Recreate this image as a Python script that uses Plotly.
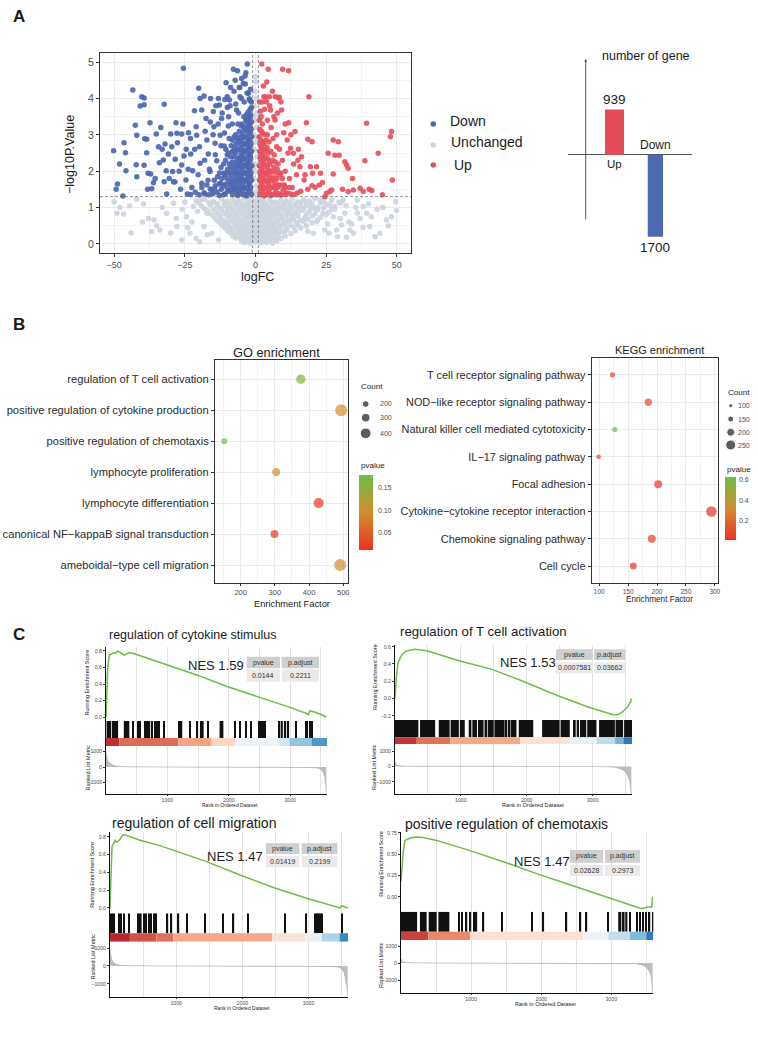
import plotly.graph_objects as go

W, H = 758, 1048
FONT = "Liberation Sans, Arial, Helvetica, sans-serif"

# ======================= DATA =======================
# ---- Panel A: volcano (logFC, -log10 P) ----
down_pts = [
    (-50.2, 2.56), (-48.8, 1.65), (-49.3, 1.5), (-48.1, 2.2), (-46.5, 2.78), (-46.0, 2.51), (-45.8, 2.01), (-46.9, 1.32),
    (-43.4, 4.23), (-40.2, 4.05), (-39.4, 4.01), (-40.8, 3.79), (-39.4, 3.83), (-42.5, 3.26), (-42.0, 2.99), (-42.2, 2.18),
    (-42.0, 1.85), (-39.4, 2.16), (-39.2, 2.89), (-38.5, 2.88), (-38.5, 2.51), (-37.3, 3.33), (-38.0, 1.94), (-37.1, 1.92),
    (-36.7, 1.52), (-38.2, 1.5), (-36.1, 1.68), (-35.1, 3.02), (-34.3, 2.67), (-34.0, 2.23), (-33.5, 3.2), (-32.3, 3.84),
    (-32.0, 2.75), (-32.6, 2.31), (-31.6, 2.01), (-32.3, 1.71), (-30.8, 2.47), (-31.4, 1.37), (-30.0, 3.02), (-29.6, 2.67),
    (-29.3, 1.99), (-29.0, 1.71), (-28.4, 2.33), (-28.1, 3.33), (-27.8, 3.04), (-27.6, 2.78), (-26.1, 3.02), (-25.7, 3.3),
    (-25.5, 4.83), (-25.3, 2.42), (-26.1, 2.17), (-24.6, 1.76), (-23.7, 3.06), (-24.1, 1.37), (-22.9, 2.47), (-22.2, 2.01),
    (-21.6, 3.66), (-21.0, 3.22), (-20.8, 2.99), (-20.1, 4.28), (-19.6, 4.0), (-18.2, 4.07), (-19.0, 3.68), (-19.8, 2.67),
    (-19.6, 2.22), (-19.0, 1.67), (-18.2, 1.41), (-17.5, 3.45), (-17.2, 2.86), (-16.7, 2.47), (-15.9, 4.0), (-16.1, 1.99),
    (-15.5, 1.5), (-14.9, 3.64), (-14.7, 3.22), (-14.3, 2.77), (-13.7, 2.29), (-13.1, 4.0), (-12.8, 3.82), (-12.5, 2.99),
    (-12.3, 1.67), (-12.0, 3.45), (-11.1, 2.69), (-10.8, 3.97), (-10.4, 4.43), (-9.96, 3.75), (-9.6, 3.24), (-9.2, 3.96),
    (-8.8, 4.3), (-7.8, 4.8), (-6.4, 4.76), (-7.2, 4.5), (-5.7, 4.3), (-4.9, 4.55), (-3.7, 4.62), (-2.9, 4.95),
    (-3.4, 4.71), (-4.3, 4.41), (-2.5, 4.14), (-2.2, 3.99), (-5.5, 4.05), (-6.7, 3.68),
    (-15.0, 3.0), (-13.2, 3.3), (-11.0, 3.05), (-9.5, 3.5), (-8.2, 3.3), (-7.0, 3.85), (-6.0, 3.6), (-5.0, 4.0),
    (-4.0, 3.9), (-3.0, 4.15), (-1.8, 4.25), (-1.5, 3.9), (-18.0, 2.3), (-16.3, 2.05), (-14.2, 2.45), (-12.2, 2.7),
    (-20.3, 1.9), (-22.5, 1.55), (-17.2, 1.62), (-23.8, 2.05), (-26.5, 1.5), (-10.0, 4.05), (-9.0, 3.8), (-7.6, 4.2),
    (-5.6, 4.3), (-3.6, 4.4), (-21.5, 2.6), (-23.0, 2.9), (-17.8, 3.1), (-16.0, 3.35), (-14.0, 3.8), (-11.8, 3.6),
    (-10.5, 2.6), (-9.3, 2.9), (-8.0, 2.55), (-27.0, 2.0), (-28.5, 1.7), (-30.5, 1.8), (-33.0, 2.6), (-35.5, 1.8), (-24.5, 2.6),
    (-1.4, 1.36), (-1.7, 1.55), (-1.4, 1.75), (-1.6, 1.95), (-1.3, 2.15), (-1.7, 2.35), (-1.4, 2.55), (-1.6, 2.75),
    (-1.3, 2.95), (-1.5, 3.15), (-1.4, 3.35), (-1.7, 3.55), (-1.4, 3.75),
    (-2.6, 1.42), (-2.4, 1.62), (-2.7, 1.82), (-2.5, 2.02), (-2.8, 2.22), (-2.4, 2.42), (-2.6, 2.62), (-2.7, 2.82),
    (-2.5, 3.02), (-2.4, 3.22), (-2.8, 3.42), (-2.6, 3.62),
    (-3.6, 1.36), (-3.8, 1.56), (-3.5, 1.76), (-3.7, 1.96), (-3.4, 2.16), (-3.9, 2.36), (-3.6, 2.56), (-3.5, 2.76),
    (-3.8, 2.96), (-3.6, 3.16), (-3.4, 3.4),
    (-4.7, 1.45), (-4.5, 1.65), (-4.9, 1.85), (-4.6, 2.05), (-4.8, 2.25), (-4.5, 2.45), (-4.7, 2.65), (-4.9, 2.85),
    (-4.6, 3.05), (-4.8, 3.3),
    (-5.8, 1.38), (-5.6, 1.58), (-6.0, 1.78), (-5.7, 1.98), (-5.9, 2.18), (-5.6, 2.38), (-5.8, 2.6), (-6.0, 2.82), (-5.7, 3.1),
    (-6.9, 1.44), (-7.1, 1.64), (-6.8, 1.84), (-7.0, 2.04), (-6.7, 2.26), (-7.1, 2.5), (-6.9, 2.75), (-7.0, 3.0),
    (-8.1, 1.36), (-7.9, 1.56), (-8.3, 1.78), (-8.0, 2.0), (-8.2, 2.25), (-7.9, 2.55), (-8.1, 2.85),
    (-9.4, 1.45), (-9.2, 1.7), (-9.6, 1.95), (-9.3, 2.2), (-9.5, 2.5),
    (-10.7, 1.38), (-10.5, 1.65), (-10.9, 1.9), (-10.6, 2.3),
    (-12.1, 1.5), (-11.9, 1.8), (-12.2, 2.1), (-13.6, 1.42), (-13.4, 1.85), (-15.1, 1.38),
    (-16.5, 1.35), (-18.0, 1.38), (-20.0, 1.35), (-21.3, 1.42), (-23.0, 1.36), (-14.2, 1.6), (-16.8, 1.75),
    (-2.0, 1.46), (-2.1, 1.66), (-1.9, 1.86), (-2.0, 2.06), (-2.2, 2.26), (-1.9, 2.46), (-2.1, 2.66), (-2.0, 2.86),
    (-1.9, 3.06), (-2.1, 3.26), (-2.0, 3.46), (-1.9, 3.7), (-2.0, 3.95),
    (-3.1, 1.32), (-3.0, 1.52), (-3.2, 1.72), (-3.1, 1.92), (-3.0, 2.12), (-3.2, 2.32), (-3.1, 2.52), (-3.0, 2.72),
    (-3.2, 2.92), (-3.1, 3.12), (-3.0, 3.32), (-3.2, 3.55),
    (-4.2, 1.35), (-4.1, 1.55), (-4.3, 1.75), (-4.2, 1.95), (-4.1, 2.15), (-4.3, 2.35), (-4.2, 2.55), (-4.1, 2.75),
    (-4.3, 2.95), (-4.2, 3.2), (-4.1, 3.5),
    (-5.2, 1.5), (-5.3, 1.7), (-5.1, 1.9), (-5.2, 2.1), (-5.3, 2.3), (-5.1, 2.5), (-5.2, 2.72), (-5.3, 2.95), (-5.1, 3.25),
    (-6.3, 1.33), (-6.4, 1.53), (-6.2, 1.73), (-6.3, 1.93), (-6.4, 2.13), (-6.2, 2.35), (-6.3, 2.6), (-6.4, 2.9), (-6.2, 3.3),
    (-7.5, 1.5), (-7.6, 1.72), (-7.4, 1.95), (-7.5, 2.15), (-7.6, 2.4), (-7.4, 2.65), (-7.5, 2.95),
    (-8.7, 1.48), (-8.8, 1.62), (-8.6, 1.88), (-8.7, 2.1), (-8.8, 2.4), (-8.6, 2.7),
    (-10.0, 1.52), (-10.1, 1.8), (-9.9, 2.05), (-10.0, 2.45),
    (-11.3, 1.35), (-11.4, 1.6), (-11.2, 1.95), (-11.3, 2.2),
    (-12.8, 1.33), (-12.9, 1.65), (-12.7, 1.95), (-14.5, 1.5), (-14.6, 1.75), (-16.0, 1.5), (-19.0, 1.55),
]

up_pts = [
    (2.2, 4.95), (2.8, 4.34), (3.0, 4.05), (3.9, 3.91), (4.9, 4.05), (8.1, 4.01), (8.4, 4.03), (9.6, 4.8), (11.7, 4.76),
    (4.5, 4.8), (5.3, 3.68), (6.9, 3.41), (7.5, 2.67), (9.2, 3.68), (10.0, 3.06), (11.2, 2.86), (11.7, 3.33), (12.4, 2.63),
    (13.4, 2.49), (14.0, 3.09), (15.2, 2.6), (15.7, 2.12), (16.3, 2.4), (17.2, 1.76), (18.0, 3.33), (18.9, 4.05),
    (18.5, 2.88), (19.4, 2.12), (20.0, 2.81), (20.2, 1.94), (21.1, 1.56), (21.6, 2.12), (22.6, 1.62), (23.0, 1.94),
    (23.7, 1.69), (24.5, 1.3), (25.1, 1.39), (25.7, 2.49), (26.3, 1.44), (26.9, 1.48), (27.5, 1.92), (28.1, 2.44),
    (29.3, 2.81), (29.6, 2.44), (30.8, 1.5), (31.6, 2.26), (32.2, 2.17), (32.8, 2.08), (32.8, 1.44), (34.3, 1.8),
    (34.6, 1.48), (37.0, 1.53), (38.1, 1.44), (38.7, 2.29), (39.3, 3.32), (40.2, 1.5), (41.1, 1.47), (43.4, 2.49),
    (44.9, 1.35), (47.7, 2.95), (48.1, 3.09), (48.4, 1.76), (27.5, 2.86),
    (5.5, 3.2), (6.2, 2.9), (7.5, 3.0), (8.5, 2.6), (6.5, 3.5), (4.2, 3.4), (9.5, 2.3), (10.5, 2.0), (12.0, 1.8),
    (13.0, 1.55), (14.5, 1.9), (16.0, 1.45), (11.5, 2.5), (3.2, 3.7), (5.0, 3.8), (2.4, 3.9), (7.8, 3.6), (9.0, 3.9),
    (3.5, 4.05), (6.0, 4.2), (4.0, 4.45), (13.5, 2.2), (15.0, 2.3), (17.5, 1.9), (18.5, 1.5), (20.0, 1.6), (10.5, 3.3),
    (8.0, 2.2), (12.5, 3.0), (7.0, 4.05),
    (1.5, 1.36), (1.7, 1.55), (1.4, 1.75), (1.6, 1.95), (1.3, 2.15), (1.7, 2.35), (1.4, 2.55), (1.6, 2.75), (1.3, 2.95),
    (1.5, 3.15), (1.4, 3.4), (1.7, 3.65), (1.4, 3.9),
    (2.6, 1.4), (2.4, 1.6), (2.7, 1.8), (2.5, 2.0), (2.8, 2.2), (2.4, 2.4), (2.6, 2.6), (2.7, 2.8), (2.5, 3.05), (2.4, 3.3),
    (3.7, 1.36), (3.5, 1.56), (3.8, 1.76), (3.6, 1.96), (3.9, 2.16), (3.5, 2.38), (3.7, 2.6), (3.8, 2.85),
    (4.8, 1.42), (4.6, 1.62), (5.0, 1.82), (4.7, 2.02), (4.9, 2.25), (4.6, 2.5), (4.8, 2.8),
    (5.9, 1.36), (5.7, 1.56), (6.1, 1.78), (5.8, 2.0), (6.0, 2.3),
    (7.1, 1.45), (6.9, 1.68), (7.3, 1.95), (7.0, 2.25),
    (8.4, 1.38), (8.2, 1.62), (8.6, 1.9), (9.7, 1.48), (9.5, 1.8), (11.0, 1.4), (12.3, 1.38), (10.2, 1.62), (13.5, 1.36),
    (2.0, 1.46), (2.1, 1.66), (1.9, 1.86), (2.0, 2.06), (2.2, 2.26), (1.9, 2.46), (2.1, 2.66), (2.0, 2.86), (2.1, 3.1), (2.0, 3.5),
    (3.1, 1.32), (3.0, 1.52), (3.2, 1.72), (3.1, 1.92), (3.0, 2.12), (3.2, 2.32), (3.1, 2.52), (3.0, 2.75), (3.2, 3.0),
    (4.2, 1.5), (4.3, 1.7), (4.1, 1.9), (4.2, 2.1), (4.3, 2.35), (4.1, 2.65), (4.2, 3.0),
    (5.3, 1.33), (5.2, 1.53), (5.4, 1.73), (5.3, 1.95), (5.2, 2.2), (5.4, 2.55),
    (6.5, 1.35), (6.6, 1.58), (6.4, 1.82), (6.5, 2.1), (6.6, 2.45),
    (7.7, 1.35), (7.8, 1.55), (7.6, 1.8), (7.7, 2.05), (9.0, 1.35), (9.1, 1.62), (8.9, 1.95),
    (10.5, 1.35), (10.6, 1.55), (12.0, 1.55), (14.8, 1.4),
]

unchanged_pts = [
    (-21, 1.18), (-18, 1.22), (-15, 1.15), (-12, 1.24), (-10, 1.17), (-8, 1.23), (-6, 1.19), (-4, 1.25), (-2.5, 1.16),
    (-1.5, 1.22), (0, 1.19), (1.5, 1.24), (3, 1.17), (5, 1.22), (7, 1.15), (9, 1.23), (11, 1.18), (13, 1.24), (15, 1.16),
    (17, 1.21), (19, 1.18), (21, 1.25), (24, 1.17), (27, 1.21),
    (-19, 1.04), (-16, 1.08), (-13.5, 1.02), (-11, 1.07), (-9, 1.03), (-7, 1.09), (-5, 1.04), (-3.5, 1.06), (-2, 1.02),
    (-0.5, 1.08), (1, 1.03), (2.5, 1.07), (4, 1.05), (6, 1.09), (8, 1.02), (10, 1.06), (12, 1.04), (14, 1.08), (16, 1.03),
    (18, 1.07), (20, 1.05), (22, 1.01), (25, 1.08), (28, 1.03),
    (-17, 0.91), (-14, 0.88), (-12, 0.93), (-10, 0.89), (-8, 0.92), (-6.5, 0.87), (-5, 0.93), (-3, 0.9), (-1.5, 0.86),
    (0, 0.92), (1.5, 0.89), (3, 0.94), (4.5, 0.88), (6, 0.91), (8, 0.87), (10, 0.93), (12, 0.9), (14, 0.86), (16.5, 0.92),
    (19, 0.89), (22, 0.94), (26, 0.88),
    (-15, 0.76), (-12.5, 0.73), (-10, 0.78), (-8, 0.74), (-6, 0.77), (-4, 0.72), (-2.5, 0.76), (-1, 0.73), (0.5, 0.78),
    (2, 0.74), (3.5, 0.77), (5, 0.72), (7, 0.76), (9, 0.73), (11, 0.78), (13, 0.74), (15, 0.77), (17.5, 0.72), (20, 0.76),
    (23, 0.73),
    (-13, 0.61), (-10.5, 0.58), (-8.5, 0.63), (-6.5, 0.59), (-4.5, 0.62), (-3, 0.57), (-1.5, 0.61), (0, 0.58), (1.5, 0.63),
    (3, 0.59), (4.5, 0.62), (6, 0.57), (8, 0.61), (10, 0.58), (12, 0.63), (14.5, 0.59), (17, 0.62), (20, 0.58),
    (-11, 0.46), (-9, 0.43), (-7, 0.47), (-5, 0.44), (-3.5, 0.48), (-2, 0.43), (-0.5, 0.46), (1, 0.44), (2.5, 0.47),
    (4, 0.43), (5.5, 0.46), (7, 0.44), (9, 0.48), (11, 0.43), (13.5, 0.46), (16, 0.44),
    (-9, 0.31), (-7, 0.28), (-5.5, 0.32), (-4, 0.29), (-2.5, 0.33), (-1, 0.28), (0.5, 0.31), (2, 0.29), (3.5, 0.32),
    (5, 0.28), (6.5, 0.31), (8, 0.29), (10, 0.32), (12.5, 0.28),
    (-7, 0.16), (-5, 0.13), (-3.5, 0.17), (-2, 0.14), (-0.5, 0.16), (1, 0.13), (2.5, 0.17), (4, 0.14), (5.5, 0.16),
    (7, 0.13), (9, 0.15), (-4, 0.04), (-2, 0.02), (0, 0.05), (2, 0.03), (4, 0.04), (6, 0.02),
    (-20, 1.12), (-16.5, 1.13), (-13.5, 1.11), (-11, 1.14), (-9, 1.1), (-7, 1.13), (-5, 1.12), (-3, 1.1), (-1, 1.14),
    (0.8, 1.11), (2.2, 1.13), (4, 1.1), (6, 1.14), (8, 1.12), (10, 1.11), (12, 1.13), (14, 1.1), (16, 1.14), (18, 1.12),
    (20, 1.11), (23, 1.13), (26, 1.1), (30, 1.12),
    (-18, 0.97), (-15, 0.96), (-12.5, 0.98), (-10, 0.97), (-8, 0.96), (-6, 0.99), (-4, 0.97), (-2.5, 0.96), (-1, 0.98),
    (0.5, 0.97), (2, 0.99), (3.5, 0.96), (5, 0.98), (7, 0.97), (9, 0.99), (11, 0.96), (13, 0.98), (15, 0.97), (17, 0.96),
    (19.5, 0.98), (21, 0.97), (24, 0.99), (27, 0.96),
    (-16, 0.82), (-13, 0.81), (-11, 0.83), (-9, 0.82), (-7, 0.8), (-5.5, 0.83), (-4, 0.81), (-2, 0.82), (-0.5, 0.8),
    (1, 0.83), (2.5, 0.81), (4, 0.82), (5.5, 0.8), (7, 0.83), (9, 0.81), (11, 0.82), (13, 0.8), (15, 0.83), (18, 0.81),
    (21, 0.82), (25, 0.8),
    (-14, 0.67), (-11.5, 0.66), (-9.5, 0.68), (-7.5, 0.67), (-5.5, 0.65), (-3.5, 0.68), (-2, 0.66), (-0.5, 0.67),
    (1, 0.65), (2.5, 0.68), (4, 0.66), (5.5, 0.67), (7.5, 0.65), (9.5, 0.68), (11.5, 0.66), (13.5, 0.67), (16, 0.65),
    (18.5, 0.68), (22, 0.66),
    (-12, 0.52), (-9.5, 0.51), (-7.5, 0.53), (-5.5, 0.52), (-4, 0.5), (-2.5, 0.53), (-1, 0.51), (0.5, 0.52), (2, 0.5),
    (3.5, 0.53), (5, 0.51), (6.5, 0.52), (8.5, 0.5), (10.5, 0.53), (12.5, 0.51), (15, 0.52), (18, 0.5),
    (-10, 0.37), (-8, 0.36), (-6, 0.38), (-4.5, 0.37), (-3, 0.35), (-1.5, 0.38), (0, 0.36), (1.5, 0.37), (3, 0.35),
    (4.5, 0.38), (6, 0.36), (7.5, 0.37), (9, 0.35), (11, 0.38), (14, 0.36),
    (-8, 0.22), (-6, 0.21), (-4.5, 0.23), (-3, 0.22), (-1.5, 0.2), (0, 0.23), (1.5, 0.21), (3, 0.22), (4.5, 0.2),
    (6, 0.23), (8, 0.21), (10.5, 0.22),
    (-5, 0.08), (-3, 0.07), (-1, 0.09), (1, 0.08), (3, 0.06), (5, 0.09), (7.5, 0.07),
    (-50, 1.16), (-49, 0.84), (-46.7, 0.82), (-42, 1.23), (-39.6, 1.1), (-37.9, 0.7), (-36.7, 0.34), (-35.9, 0.66),
    (-33.8, 0.38), (-31.4, 0.84), (-29, 1.12), (-27.8, 0.48), (-26.1, 0.11), (-24.4, 0.75), (-23.2, 0.29), (-22, 1.03),
    (-19.8, 0.06), (-19.6, 1.21), (-18.2, 0.48), (-17.2, 0.84), (-15.5, 0.29), (-13.1, 0.11), (-14.9, 1.16), (-44.5, 1.05),
    (-26, 0.95), (-22.5, 0.6), (-20.5, 0.9), (-17, 0.25),
    (-25, 1.15), (-28, 0.7), (-30, 0.3), (-33, 1.0), (-35, 0.5), (-40, 0.6), (-44, 0.3), (-48, 1.0), (-24, 0.45), (-21, 0.15),
    (49.9, 0.92), (49.6, 1.16), (48.1, 0.75), (46.3, 0.66), (44, 0.29), (42.3, 0.2), (40.4, 0.48), (39.3, 0.84),
    (38.1, 1.03), (37, 0.7), (34.6, 0.29), (33.4, 0.38), (32.2, 0.18), (31.6, 0.84), (30.4, 0.52), (28.7, 0.38),
    (27.5, 0.75), (26.3, 1.07), (24.5, 0.38), (23.9, 0.84), (22.8, 1.21), (21.6, 0.61), (20.5, 0.29), (29.5, 1.15),
    (35.5, 1.0), (18.5, 0.35), (25.5, 0.55), (33, 0.6), (43, 0.95),
    (28, 0.95), (30, 0.7), (32, 1.05), (34, 0.55), (36, 0.85), (38, 0.45), (41, 0.75), (45, 1.0), (47, 0.5), (26, 0.3),
    (29, 0.2), (31, 1.2), (36, 1.2), (40, 1.1),
    (-0.3, 1.4), (0.4, 1.6), (-0.5, 1.8), (0.2, 2.0), (-0.2, 2.2), (0.5, 2.4), (-0.4, 2.6), (0.1, 2.8), (-0.6, 3.0),
    (0.3, 3.2), (-0.1, 3.4), (0.5, 3.6), (-0.4, 3.8), (0.2, 4.0), (-0.3, 4.2), (0.1, 4.45), (0.6, 1.45), (-0.7, 2.1),
    (0.7, 2.9), (-0.6, 3.5), (0.0, 4.6),
]

volcano_ticks_x = [-50, -25, 0, 25, 50]
volcano_ticks_y = [0, 1, 2, 3, 4, 5]

gene_groups = ["Up", "Down"]
gene_counts = [939, 1700]

# ---- Panel B: GO / KEGG ----
go_terms = ["regulation of T cell activation", "positive regulation of cytokine production",
            "positive regulation of chemotaxis", "lymphocyte proliferation", "lymphocyte differentiation",
            "canonical NF\u2212kappaB signal transduction", "ameboidal\u2212type cell migration"]
go_factor = [376, 494, 152, 304, 428, 299, 491]
go_count = [340, 465, 165, 280, 365, 265, 465]
go_pvalue = [0.165, 0.095, 0.175, 0.092, 0.012, 0.014, 0.095]
go_count_legend = [200, 300, 400]
go_p_ticks = [0.05, 0.10, 0.15]

kegg_terms = ["T cell receptor signaling pathway", "NOD\u2212like receptor signaling pathway",
              "Natural killer cell mediated cytotoxicity", "IL\u221217 signaling pathway", "Focal adhesion",
              "Cytokine\u2212cytokine receptor interaction", "Chemokine signaling pathway", "Cell cycle"]
kegg_factor = [123, 185, 127, 99, 202, 294, 191, 159]
kegg_count = [132, 183, 132, 117, 200, 262, 200, 175]
kegg_pvalue = [0.06, 0.07, 0.60, 0.08, 0.03, 0.012, 0.045, 0.02]
kegg_count_legend = [100, 150, 200, 250]
kegg_p_ticks = [0.2, 0.4, 0.6]

# ---- Panel C: GSEA ----
gsea_titles = ["regulation of cytokine stimulus", "regulation of T cell activation",
               "regulation of cell migration", "positive regulation of chemotaxis"]
gsea_nes = [1.59, 1.53, 1.47, 1.47]
gsea_pvalue = ["0.0144", "0.0007581", "0.01419", "0.02628"]
gsea_padjust = ["0.2211", "0.03662", "0.2199", "0.2973"]
rank_ticks = [1000, 2000, 3000]
metric_ticks = [-1000, 0, 1000]

es_rank_1 = [0, 10, 25, 37, 53, 80, 120, 150, 188, 240, 295, 330, 376, 450, 565, 860, 1478, 1973, 2473, 2984, 3280, 3300, 3318, 3400, 3500, 3590]
es_score_1 = [0, 0.3, 0.55, 0.65, 0.75, 0.76, 0.78, 0.77, 0.8, 0.78, 0.75, 0.76, 0.78, 0.77, 0.74, 0.67, 0.51, 0.37, 0.25, 0.12, 0.04, 0.03, 0.075, 0.06, 0.03, 0.0]
es_rank_2 = [0, 20, 45, 96, 172, 299, 500, 957, 1464, 1945, 2427, 2933, 3313, 3389, 3450, 3490, 3541, 3567, 3580, 3590]
es_score_2 = [0, 0.25, 0.41, 0.5, 0.55, 0.57, 0.55, 0.44, 0.34, 0.2, 0.046, -0.1, -0.19, -0.185, -0.16, -0.13, -0.09, -0.05, -0.04, 0.0]
es_rank_3 = [0, 15, 30, 50, 76, 100, 126, 161, 191, 227, 300, 453, 755, 956, 1108, 1460, 1964, 2467, 2971, 3198, 3300, 3474, 3500, 3540, 3590]
es_score_3 = [0, 0.46, 0.69, 0.72, 0.76, 0.74, 0.75, 0.78, 0.82, 0.82, 0.8, 0.76, 0.70, 0.65, 0.61, 0.52, 0.37, 0.23, 0.11, 0.06, 0.045, 0.0, 0.025, 0.01, 0.0]
es_rank_4 = [0, 33, 57, 128, 200, 318, 509, 984, 1460, 1935, 2410, 2886, 3266, 3433, 3480, 3528, 3576, 3585, 3590]
es_score_4 = [0.18, 0.53, 0.66, 0.685, 0.70, 0.695, 0.66, 0.54, 0.41, 0.27, 0.14, 0.01, -0.10, -0.14, -0.13, -0.12, -0.12, -0.05, 0.0]

hits_1 = [[10, 85], [112, 124], [140, 150], [158, 168], [182, 194], [290, 380], [440, 452], [515, 528], [547, 560],
          [623, 635], [645, 656], [667, 678], [694, 720], [748, 760], [800, 812], [828, 840], [855, 866], [935, 947],
          [1177, 1189], [1205, 1242], [1355, 1367], [1473, 1485], [1530, 1590], [1660, 1672], [1850, 1912], [2092, 2104],
          [2172, 2184], [2280, 2292], [2360, 2372], [2495, 2507], [2521, 2533], [2548, 2560], [2591, 2603], [2818, 2830],
          [2845, 2880], [2898, 2935], [2967, 2979], [3087, 3099], [3248, 3260], [3275, 3290], [3312, 3324], [3345, 3357]]
hits_2 = [[0, 355], [380, 610], [665, 830], [845, 970], [985, 1060], [1120, 1160], [1175, 1245], [1260, 1345],
          [1360, 1400], [1410, 1500], [1510, 1665], [1680, 1705], [1720, 1745], [1755, 1845], [1880, 2100], [2235, 2500],
          [2515, 2655], [2715, 2745], [2760, 2795], [2810, 2905], [2920, 3060], [3100, 3340], [3350, 3465], [3480, 3600]]
hits_3 = [[0, 76], [126, 141], [166, 178], [204, 216], [285, 297], [423, 435], [453, 478], [502, 514], [537, 549],
          [577, 589], [612, 624], [654, 680], [690, 702], [864, 876], [924, 936], [1030, 1042], [1156, 1168],
          [1423, 1435], [1695, 1707], [1861, 1873], [2078, 2090], [2642, 2654], [2954, 2966], [3094, 3106],
          [3119, 3131], [3144, 3156], [3169, 3181], [3203, 3215], [3498, 3510]]
hits_4 = [[0, 230], [270, 366], [395, 509], [533, 690], [818, 835], [865, 880], [925, 945], [984, 1000],
          [1030, 1045], [1070, 1085], [1170, 1185], [1430, 1445], [1860, 1875], [2025, 2040], [2355, 2370],
          [2555, 2570], [2640, 2655], [2950, 2965], [3100, 3140], [3150, 3190], [3200, 3230], [3260, 3275],
          [3355, 3370], [3400, 3415], [3445, 3460], [3490, 3505], [3540, 3555], [3585, 3600]]

band_edges_1 = [0, 220, 1180, 1720, 2100, 2820, 2990, 3350, 3600]
band_level_1 = [0.92, 0.7, 0.5, 0.27, -0.05, -0.25, -0.5, -0.72]
band_edges_2 = [0, 330, 836, 1900, 2660, 3065, 3343, 3470, 3600]
band_level_2 = [0.9, 0.68, 0.48, 0.18, -0.1, -0.32, -0.58, -0.9]
band_edges_3 = [0, 300, 700, 956, 2451, 2950, 3200, 3470, 3600]
band_level_3 = [0.95, 0.8, 0.68, 0.48, 0.18, -0.1, -0.38, -0.8]
band_edges_4 = [0, 390, 984, 2600, 2957, 3266, 3500, 3600]
band_level_4 = [0.85, 0.6, 0.2, -0.05, -0.3, -0.55, -0.88]

metric_rank = [0, 8, 20, 40, 80, 150, 300, 800, 1800, 2800, 3200, 3350, 3450, 3500, 3540, 3565, 3580, 3590]
metric_1 = [950, 750, 550, 350, 180, 60, 15, 4, 0, -4, -12, -30, -70, -150, -350, -700, -1100, -1650]
metric_2 = [300, 180, 100, 55, 30, 15, 8, 3, 0, -3, -15, -60, -200, -350, -650, -950, -1300, -1800]
metric_3 = [950, 700, 450, 250, 110, 40, 12, 4, 0, -4, -10, -25, -60, -150, -400, -800, -1200, -1700]
metric_4 = [250, 150, 80, 45, 25, 12, 6, 2, 0, -3, -10, -40, -120, -250, -450, -700, -1100, -1750]

# ======================= STYLE / LAYOUT HELPERS =======================
C_DOWN, C_UP, C_UN = "#4C67B1", "#E8505D", "#CDD5DE"
PSCALE = [[0, "#EE3124"], [0.5, "#D18E2E"], [1, "#6CBE45"]]
RDBU = [[0, "#2166AC"], [0.125, "#4393C3"], [0.25, "#92C5DE"], [0.375, "#D1E5F0"], [0.5, "#F7F7F7"],
        [0.625, "#FDDBC7"], [0.75, "#F4A582"], [0.875, "#D6604D"], [1, "#B2182B"]]


def px(x):
    return x / W


def py(y):
    return 1 - y / H


def base_axis(**kw):
    d = dict(showgrid=False, zeroline=False, showline=False, ticks="", showticklabels=False,
             automargin=False, fixedrange=True)
    d.update(kw)
    return d


def fmt_minus(v, fmt):
    return (fmt % v).replace("-", "\u2212")


fig = go.Figure()
layout = {}
annotations = []
shapes = []


def ann(text, x, y, size, color="#1a1a1a", xanchor="center", yanchor="middle", angle=0, bold=False):
    annotations.append(dict(text=("<b>%s</b>" % text) if bold else text, x=px(x), y=py(y), xref="paper",
                            yref="paper", showarrow=False, xanchor=xanchor, yanchor=yanchor, textangle=angle,
                            font=dict(size=size, color=color, family=FONT)))


# ======================= PANEL A: volcano =======================
for pts, col in [(unchanged_pts, C_UN), (down_pts, C_DOWN), (up_pts, C_UP)]:
    fig.add_trace(go.Scatter(x=[p[0] for p in pts], y=[p[1] for p in pts], mode="markers",
                             marker=dict(size=5.5, color=col, opacity=0.92, line=dict(width=0)),
                             xaxis="x", yaxis="y", hoverinfo="skip", showlegend=False))

grid_major = dict(showgrid=True, gridcolor="#EBEBEB", gridwidth=1)
layout["xaxis"] = base_axis(domain=[px(100), px(411)], range=[-55, 55], anchor="y",
                            tickvals=volcano_ticks_x, ticktext=[fmt_minus(v, "%d") for v in volcano_ticks_x],
                            showticklabels=True, ticks="outside", ticklen=3, tickcolor="#333",
                            tickfont=dict(size=9, color="#4D4D4D", family=FONT),
                            showline=True, linecolor="#333", linewidth=1, mirror=True,
                            minor=dict(tickvals=[-37.5, -12.5, 12.5, 37.5], showgrid=True, gridcolor="#F3F3F3", gridwidth=0.7),
                            **grid_major)
layout["yaxis"] = base_axis(domain=[py(253), py(53)], range=[-0.25, 5.25], anchor="x",
                            tickvals=volcano_ticks_y, showticklabels=True, ticks="outside", ticklen=3, tickcolor="#333",
                            tickfont=dict(size=10.5, color="#4D4D4D", family=FONT),
                            showline=True, linecolor="#333", linewidth=1, mirror=True,
                            minor=dict(tickvals=[0.5, 1.5, 2.5, 3.5, 4.5], showgrid=True, gridcolor="#F3F3F3", gridwidth=0.7),
                            **grid_major)
for xv in (-1, 1):
    shapes.append(dict(type="line", xref="x", yref="y domain", x0=xv, x1=xv, y0=0, y1=1,
                       line=dict(color="#666", width=0.7, dash="3px,2px")))
shapes.append(dict(type="line", xref="x domain", yref="y", x0=0, x1=1, y0=1.3, y1=1.3,
                   line=dict(color="#666", width=0.7, dash="3px,2px")))
ann("\u2212log10P.Value", 70, 155, 12.5, angle=-90)
ann("logFC", 257, 277, 12.5)

# legend (overlay axis 17)
leg_y = [124, 145, 165]
fig.add_trace(go.Scatter(x=[433.3] * 3, y=leg_y, mode="markers",
                         marker=dict(size=5.5, color=[C_DOWN, C_UN, C_UP]),
                         xaxis="x17", yaxis="y17", hoverinfo="skip", showlegend=False))
ann("Down", 448, 121, 14, xanchor="left")
ann("Unchanged", 449, 142, 14, xanchor="left")
ann("Up", 452, 165, 14, xanchor="left")

# ---- bar chart ----
fig.add_trace(go.Bar(x=gene_groups, y=[gene_counts[0], -gene_counts[1]], width=[0.465, 0.374],
                     marker=dict(color=["#E64B5A", "#4E69B2"], line=dict(width=0)),
                     xaxis="x2", yaxis="y2", hoverinfo="skip", showlegend=False))
layout["xaxis2"] = base_axis(domain=[px(568), px(692)], range=[-1.137, 1.895], anchor="y2", type="category",
                             categoryorder="array", categoryarray=gene_groups)
layout["yaxis2"] = base_axis(domain=[py(240), py(60)], range=[-1768, 1963], anchor="x2",
                             zeroline=True, zerolinecolor="#555", zerolinewidth=1)
annotations.append(dict(text=str(gene_counts[0]), x="Up", y=gene_counts[0], xref="x2", yref="y2",
                        showarrow=False, yanchor="bottom", yshift=0, font=dict(size=13.5, color="#1a1a1a", family=FONT)))
annotations.append(dict(text=str(gene_counts[1]), x="Down", y=-gene_counts[1], xref="x2", yref="y2",
                        showarrow=False, yanchor="top", yshift=-1, font=dict(size=13.5, color="#1a1a1a", family=FONT)))
annotations.append(dict(text="Up", x="Up", y=0, xref="x2", yref="y2", showarrow=False, yanchor="top",
                        yshift=-1, font=dict(size=11.5, color="#1a1a1a", family=FONT)))
annotations.append(dict(text="Down", x="Down", y=0, xref="x2", yref="y2", showarrow=False, yanchor="bottom",
                        yshift=1, font=dict(size=12, color="#1a1a1a", family=FONT)))
annotations.append(dict(text="", x=px(585.7), y=py(59), xref="paper", yref="paper", showarrow=True,
                        ax=0, ay=162, arrowhead=2, arrowsize=0.6, arrowwidth=0.9, arrowcolor="#444", standoff=0))
ann("number of gene", 646, 56, 12.5)

# ======================= PANEL B: GO =======================
def go_size(c):
    return 2.7 + 0.02 * c


def kegg_size(c):
    return 0.04 * c


fig.add_trace(go.Scatter(
    x=go_factor, y=go_terms, mode="markers", xaxis="x3", yaxis="y3", hoverinfo="skip", showlegend=False,
    marker=dict(size=[go_size(c) for c in go_count], color=go_pvalue, colorscale=PSCALE, cmin=0.011, cmax=0.179,
                line=dict(width=0),
                colorbar=dict(x=px(359), xanchor="left", y=py(475), yanchor="top", len=75, lenmode="pixels",
                              thickness=14, thicknessmode="pixels", xpad=0, ypad=0, outlinewidth=0,
                              title=dict(text=""), tickvals=go_p_ticks, ticktext=["%.2f" % v for v in go_p_ticks],
                              tickfont=dict(size=7, color="#4D4D4D", family=FONT), ticks="outside", ticklen=4,
                              tickcolor="rgba(0,0,0,0)"))))
layout["xaxis3"] = base_axis(domain=[px(215), px(347.7)], range=[125, 513], anchor="y3",
                             tickvals=[200, 300, 400, 500], showticklabels=True, ticks="outside", ticklen=2,
                             tickcolor="#333", tickfont=dict(size=7.5, color="#4D4D4D", family=FONT),
                             showline=True, linecolor="#333", linewidth=1, mirror=True,
                             minor=dict(tickvals=[150, 250, 350, 450], showgrid=True, gridcolor="#F3F3F3", gridwidth=0.7),
                             **grid_major)
layout["yaxis3"] = base_axis(domain=[py(583.3), py(360)], range=[-0.59, 6.62], anchor="x3", type="category",
                             categoryorder="array", categoryarray=list(reversed(go_terms)),
                             showticklabels=True, ticks="outside", ticklen=3, tickcolor="#333",
                             tickfont=dict(size=11.2, color="#2B2B2B", family=FONT),
                             showline=True, linecolor="#333", linewidth=1, mirror=True, **grid_major)
ann("GO enrichment", 276.5, 352, 12.8)
ann("Enrichment Factor", 292, 603.5, 9.3)
ann("Count", 359, 386, 8, xanchor="left")
ann("pvalue", 359, 466, 8, xanchor="left")
go_leg_y = [404, 417.7, 433.3]
fig.add_trace(go.Scatter(x=[365.7] * 3, y=go_leg_y, mode="markers",
                         marker=dict(size=[go_size(c) for c in go_count_legend], color="#1a1a1a"),
                         xaxis="x17", yaxis="y17", hoverinfo="skip", showlegend=False))
for c, yy in zip(go_count_legend, go_leg_y):
    ann(str(c), 378, yy, 7, color="#4D4D4D", xanchor="left")

# ======================= PANEL B: KEGG =======================
fig.add_trace(go.Scatter(
    x=kegg_factor, y=kegg_terms, mode="markers", xaxis="x4", yaxis="y4", hoverinfo="skip", showlegend=False,
    marker=dict(size=[kegg_size(c) for c in kegg_count], color=kegg_pvalue, colorscale=PSCALE, cmin=0.005,
                cmax=0.627, line=dict(width=0),
                colorbar=dict(x=px(725), xanchor="left", y=py(477.3), yanchor="top", len=63, lenmode="pixels",
                              thickness=11, thicknessmode="pixels", xpad=0, ypad=0, outlinewidth=0,
                              title=dict(text=""), tickvals=kegg_p_ticks, ticktext=["%.1f" % v for v in kegg_p_ticks],
                              tickfont=dict(size=7, color="#4D4D4D", family=FONT), ticks="outside", ticklen=2,
                              tickcolor="rgba(0,0,0,0)"))))
layout["xaxis4"] = base_axis(domain=[px(591.7), px(717.7)], range=[87, 305], anchor="y4",
                             tickvals=[100, 150, 200, 250, 300], showticklabels=True, ticks="outside", ticklen=2,
                             tickcolor="#333", tickfont=dict(size=6.5, color="#4D4D4D", family=FONT),
                             showline=True, linecolor="#333", linewidth=1, mirror=True,
                             minor=dict(tickvals=[125, 175, 225, 275], showgrid=True, gridcolor="#F3F3F3", gridwidth=0.7),
                             **grid_major)
layout["yaxis4"] = base_axis(domain=[py(582.7), py(358.3)], range=[-0.61, 7.61], anchor="x4", type="category",
                             categoryorder="array", categoryarray=list(reversed(kegg_terms)),
                             showticklabels=True, ticks="outside", ticklen=3, tickcolor="#333",
                             tickfont=dict(size=10.9, color="#2B2B2B", family=FONT),
                             showline=True, linecolor="#333", linewidth=1, mirror=True, **grid_major)
ann("KEGG enrichment", 659.7, 350, 11)
ann("Enrichment Factor", 659.2, 599.5, 8.2)
ann("Count", 725.5, 392.3, 8, xanchor="left")
ann("pvalue", 725, 469.7, 8, xanchor="left")
kegg_leg_y = [405.7, 419, 432.3, 445]
fig.add_trace(go.Scatter(x=[730.7] * 4, y=kegg_leg_y, mode="markers",
                         marker=dict(size=[kegg_size(c) for c in kegg_count_legend], color="#1a1a1a"),
                         xaxis="x17", yaxis="y17", hoverinfo="skip", showlegend=False))
for c, yy in zip(kegg_count_legend, kegg_leg_y):
    ann(str(c), 736, yy, 7, color="#4D4D4D", xanchor="left")

# ======================= PANEL C: GSEA =======================
GEOM = [
    dict(x0=106, x1=327, es=(647, 721), hit=(721, 738), band=(738, 746), met=(746, 794),
         es_range=[-0.048, 0.848], met_range=[-1740, 1355],
         title_xy=(107, 635, 12.5), es_lab=(86.5, 683), met_lab=(87.5, 768), rank_lab=(230, 804.5, 5),
         pcol=(246.7, 280), acol=(281.7, 319), hrow=(656.7, 668.3), vrow=(669.3, 681.7), nes_xy=(215.5, 665)),
    dict(x0=395, x1=632, es=(645, 720), hit=(720, 737.3), band=(737.3, 744.3), met=(744.3, 794),
         es_range=[-0.25, 0.62], met_range=[-1800, 1440],
         title_xy=(398, 631, 13.2), es_lab=(375, 677), met_lab=(374, 767), rank_lab=(532.7, 804.5, 5.6),
         pcol=(556, 592.7), acol=(594, 625), hrow=(649.3, 660), vrow=(662.3, 673.3), nes_xy=(528, 662.3)),
    dict(x0=110, x1=348.3, es=(831.7, 913.3), hit=(913.3, 933.3), band=(933.3, 941.7), met=(941.7, 997.3),
         es_range=[-0.06, 0.856], met_range=[-1770, 1373],
         title_xy=(110, 822.7, 14.1), es_lab=(91.7, 875), met_lab=(92.5, 957), rank_lab=(241.7, 1007.8, 5),
         pcol=(266, 299.3), acol=(301.7, 337.3), hrow=(843.3, 854), vrow=(856, 867.3), nes_xy=(235, 856.7)),
    dict(x0=401, x1=653.3, es=(831.7, 911.7), hit=(911.7, 931.7), band=(931.7, 940), met=(940, 993.3),
         es_range=[-0.176, 0.762], met_range=[-1780, 1353],
         title_xy=(403.3, 824.3, 14), es_lab=(380.8, 864), met_lab=(381, 965), rank_lab=(545, 1003.8, 5.5),
         pcol=(570, 603.3), acol=(605, 640), hrow=(850, 862.7), vrow=(865, 876), nes_xy=(541.7, 861.7)),
]
ES_TICKS = [
    ([0, 0.2, 0.4, 0.6, 0.8], "%.1f"),
    ([-0.2, 0, 0.2, 0.4, 0.6], "%.1f"),
    ([0, 0.2, 0.4, 0.6, 0.8], "%.1f"),
    ([0, 0.25, 0.5, 0.75], "%.2f"),
]
ES_RANKS = [es_rank_1, es_rank_2, es_rank_3, es_rank_4]
ES_SCORES = [es_score_1, es_score_2, es_score_3, es_score_4]
HITS = [hits_1, hits_2, hits_3, hits_4]
BAND_E = [band_edges_1, band_edges_2, band_edges_3, band_edges_4]
BAND_L = [band_level_1, band_level_2, band_level_3, band_level_4]
METRICS = [metric_1, metric_2, metric_3, metric_4]

GRID_C = "#E2E2E2"
small_font = dict(size=5.2, color="#4D4D4D", family=FONT)

for k, g in enumerate(GEOM):
    ia, ib, ic = 5 + 3 * k, 6 + 3 * k, 7 + 3 * k
    xd = [px(g["x0"]), px(g["x1"])]
    xgrid = dict(showgrid=True, gridcolor=GRID_C, gridwidth=1.2,
                 minor=dict(tickvals=[500, 1500, 2500, 3500], showgrid=True, gridcolor=GRID_C, gridwidth=1.2))
    layout["xaxis%d" % ia] = base_axis(domain=xd, range=[0, 3600], anchor="y%d" % ia, tickvals=rank_ticks, **xgrid)
    tv, tf = ES_TICKS[k]
    layout["yaxis%d" % ia] = base_axis(domain=[py(g["es"][1]), py(g["es"][0])], range=g["es_range"],
                                       anchor="x%d" % ia, showline=True, linecolor="#111", linewidth=0.9,
                                       tickvals=tv, ticktext=[fmt_minus(v, tf) for v in tv], showticklabels=True,
                                       ticks="outside", ticklen=2, tickcolor="#333", tickfont=small_font)
    hit_px = g["hit"][1] - g["hit"][0]
    band_px = g["band"][1] - g["band"][0]
    bf = band_px / hit_px
    layout["xaxis%d" % ib] = base_axis(domain=xd, range=[0, 3600], anchor="y%d" % ib, tickvals=rank_ticks,
                                       layer="above traces", **xgrid)
    layout["yaxis%d" % ib] = base_axis(domain=[py(g["band"][1]), py(g["hit"][0])], range=[-bf, 1],
                                       anchor="x%d" % ib, showline=True, linecolor="#111", linewidth=0.9)
    layout["xaxis%d" % ic] = base_axis(domain=xd, range=[0, 3600], anchor="y%d" % ic, tickvals=rank_ticks,
                                       ticktext=[str(v) for v in rank_ticks], showticklabels=True, ticks="outside",
                                       ticklen=1, tickcolor="#333", tickfont=small_font,
                                       showline=True, linecolor="#111", linewidth=0.9, **xgrid)
    layout["yaxis%d" % ic] = base_axis(domain=[py(g["met"][1]), py(g["met"][0])], range=g["met_range"],
                                       anchor="x%d" % ic, showline=True, linecolor="#111", linewidth=0.9,
                                       tickvals=metric_ticks, ticktext=[fmt_minus(v, "%d") for v in metric_ticks],
                                       showticklabels=True, ticks="outside", ticklen=2, tickcolor="#333",
                                       tickfont=small_font)
    fig.add_trace(go.Scatter(x=ES_RANKS[k], y=ES_SCORES[k], mode="lines", line=dict(color="#6BBE44", width=1.5),
                             xaxis="x%d" % ia, yaxis="y%d" % ia, hoverinfo="skip", showlegend=False))
    runs = HITS[k]
    fig.add_trace(go.Bar(x=[(s + e) / 2 for s, e in runs], y=[1] * len(runs), base=0,
                         width=[max(e - s, 18) for s, e in runs],
                         marker=dict(color="#111111", line=dict(width=0)),
                         xaxis="x%d" % ib, yaxis="y%d" % ib, hoverinfo="skip", showlegend=False))
    edges, levels = BAND_E[k], BAND_L[k]
    fig.add_trace(go.Bar(x=[(edges[i] + edges[i + 1]) / 2 for i in range(len(levels))], y=[bf] * len(levels),
                         base=-bf, width=[edges[i + 1] - edges[i] for i in range(len(levels))],
                         marker=dict(color=levels, colorscale=RDBU, cmin=-1, cmax=1, line=dict(width=0)),
                         xaxis="x%d" % ib, yaxis="y%d" % ib, hoverinfo="skip", showlegend=False))
    fig.add_trace(go.Scatter(x=metric_rank, y=METRICS[k], mode="lines", fill="tozeroy", fillcolor="#BEBEBE",
                             line=dict(color="#A8A8A8", width=0.6),
                             xaxis="x%d" % ic, yaxis="y%d" % ic, hoverinfo="skip", showlegend=False))
    tx, ty, ts = g["title_xy"]
    ann(gsea_titles[k], tx, ty, ts, xanchor="left")
    ann("Running Enrichment Score", g["es_lab"][0], g["es_lab"][1], 5.5, angle=-90)
    ann("Ranked List Metric", g["met_lab"][0], g["met_lab"][1], 5.5, angle=-90)
    rx, ry, rs = g["rank_lab"]
    ann("Rank in Ordered Dataset", rx, ry, rs)
    ann("NES %.2f" % gsea_nes[k], g["nes_xy"][0], g["nes_xy"][1], 13, color="#222")
    for (cx0, cx1), head, val in [(g["pcol"], "pvalue", gsea_pvalue[k]), (g["acol"], "p.adjust", gsea_padjust[k])]:
        shapes.append(dict(type="rect", xref="paper", yref="paper", x0=px(cx0), x1=px(cx1),
                           y0=py(g["hrow"][1]), y1=py(g["hrow"][0]), fillcolor="#CFCFCF", line=dict(width=0)))
        shapes.append(dict(type="rect", xref="paper", yref="paper", x0=px(cx0), x1=px(cx1),
                           y0=py(g["vrow"][1]), y1=py(g["vrow"][0]), fillcolor="#EAEAEA", line=dict(width=0)))
        ann(head, (cx0 + cx1) / 2, (g["hrow"][0] + g["hrow"][1]) / 2, 7, color="#333")
        ann(val, (cx0 + cx1) / 2, (g["vrow"][0] + g["vrow"][1]) / 2, 7, color="#333")

layout["xaxis17"] = base_axis(domain=[0, 1], range=[0, W], anchor="y17", visible=False)
layout["yaxis17"] = base_axis(domain=[0, 1], range=[H, 0], anchor="x17", visible=False)

ann("A", 19, 16, 17, bold=True)
ann("B", 19, 324, 17, bold=True)
ann("C", 19, 634, 17, bold=True)

fig.update_layout(width=W, height=H, margin=dict(l=0, r=0, t=0, b=0), autosize=False, template="none",
                  paper_bgcolor="white", plot_bgcolor="rgba(0,0,0,0)", barmode="overlay",
                  font=dict(family=FONT, color="#1a1a1a"), showlegend=False,
                  annotations=annotations, shapes=shapes, **layout)
fig.write_html("out.html")
